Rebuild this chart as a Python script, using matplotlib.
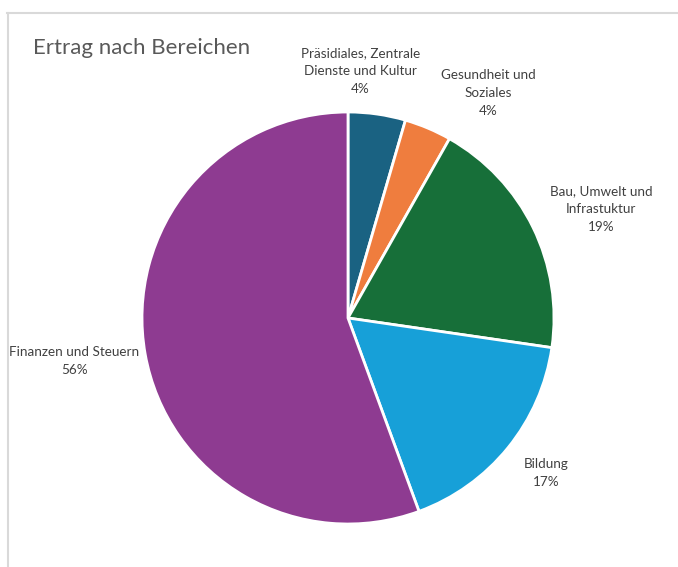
import matplotlib.pyplot as plt
from matplotlib.lines import Line2D

plt.rcParams['font.family'] = ['Lato', 'DejaVu Sans']

# data
labels = ["Präsidiales, Zentrale\nDienste und Kultur", "Gesundheit und\nSoziales",
          "Bau, Umwelt und\nInfrastuktur", "Bildung", "Finanzen und Steuern"]
values = [4.5, 3.7, 19.1, 17.1, 55.6]
pct_labels = ["4%", "4%", "19%", "17%", "56%"]
colors = ["#1A6282", "#EF7D3E", "#176F39", "#17A0D8", "#8E3B91"]

# label positions (in units of pie radius)
label_pos = [(0.06, 1.20), (0.68, 1.09), (1.23, 0.53), (0.96, -0.75), (-1.33, -0.21)]

W, H = 678, 567
fig = plt.figure(figsize=(W / 100, H / 100), dpi=100)

# light frame (top + left)
fig.add_artist(Line2D([7 / W, 1], [1 - 13 / H, 1 - 13 / H], color="#d9d9d9", lw=1.5))
fig.add_artist(Line2D([8 / W, 8 / W], [0, 1 - 13 / H], color="#d9d9d9", lw=1.5))

cx, cy, r = 348, 318, 206
ax = fig.add_axes([(cx - r) / W, (H - cy - r) / H, 2 * r / W, 2 * r / H])
ax.pie(values, colors=colors, startangle=90, counterclock=False, radius=1,
       wedgeprops=dict(edgecolor="white", linewidth=2))
ax.set_xlim(-1, 1)
ax.set_ylim(-1, 1)
ax.set_aspect("equal")
ax.axis("off")

for lab, pct, (x, y) in zip(labels, pct_labels, label_pos):
    ax.text(x, y, lab + "\n" + pct, ha="center", va="center", fontsize=9.7,
            color="#404040", linespacing=1.6, clip_on=False)

fig.text(33 / W, 1 - 48 / H, "Ertrag nach Bereichen", fontsize=16, color="#595959",
         ha="left", va="center")

fig.savefig("out.png", dpi=100)
